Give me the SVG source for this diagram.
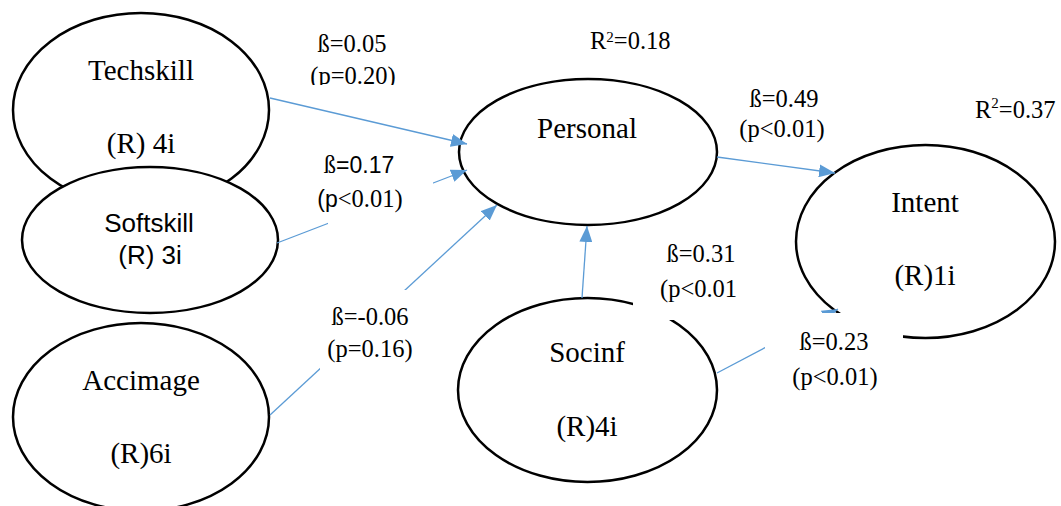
<svg xmlns="http://www.w3.org/2000/svg" width="1061" height="506" viewBox="0 0 1061 506">
<style>
.node{fill:#fff;stroke:#000;stroke-width:2.5}
.nt{font-family:"Liberation Serif","Times New Roman",serif;font-size:29px;fill:#000;text-anchor:middle}
.ns{font-family:"Liberation Sans",Arial,sans-serif;font-size:26px;fill:#000;text-anchor:middle}
.conn{stroke:#5B9BD5;stroke-width:1.3;fill:none;marker-end:url(#ah)}
.lbl{font-family:"Liberation Serif","Times New Roman",serif;font-size:24.5px;fill:#000;text-anchor:middle}
.sans{font-family:"Liberation Sans",Arial,sans-serif;font-size:23px}
.box{fill:#fff;stroke:none}
</style>
<defs>
<marker id="ah" markerUnits="userSpaceOnUse" markerWidth="17" markerHeight="13" refX="16" refY="6.5" orient="auto">
<path d="M0,0 L16,6.5 L0,13 z" fill="#5B9BD5"/>
</marker>
<clipPath id="clipP20"><rect x="290" y="60" width="130" height="25"/></clipPath>
</defs>
<rect width="1061" height="506" fill="#fff"/>
<g id="techskill">
<ellipse class="node" cx="141" cy="110" rx="128" ry="97"/>
<text class="nt" x="141" y="80">Techskill</text>
<text class="nt" x="141" y="153">(R) 4i</text>
</g>
<g id="softskill">
<ellipse class="node" cx="150" cy="240" rx="128" ry="73"/>
<text class="ns" x="149" y="232">Softskill</text>
<text class="ns" x="150" y="264">(R) 3i</text>
</g>
<g id="accimage">
<ellipse class="node" cx="141" cy="417" rx="128" ry="94"/>
<text class="nt" x="141" y="390">Accimage</text>
<text class="nt" x="141" y="463">(R)6i</text>
</g>
<g id="personal">
<ellipse class="node" cx="588" cy="152" rx="129" ry="73"/>
<text class="nt" x="587" y="138">Personal</text>
</g>
<g id="socinf">
<ellipse class="node" cx="587.5" cy="390" rx="129.5" ry="92"/>
<text class="nt" x="587" y="362">Socinf</text>
<text class="nt" x="587" y="436">(R)4i</text>
</g>
<g id="intent">
<ellipse class="node" cx="925.5" cy="241.5" rx="129.5" ry="96.5"/>
<text class="nt" x="925" y="212">Intent</text>
<text class="nt" x="925" y="285">(R)1i</text>
</g>
<g id="connectors">
<line class="conn" x1="270" y1="98" x2="467" y2="144"/>
<line class="conn" x1="277" y1="243" x2="467" y2="170"/>
<line class="conn" x1="270" y1="415" x2="497" y2="205"/>
<line class="conn" x1="582" y1="298" x2="587" y2="226"/>
<line class="conn" x1="717" y1="157" x2="835" y2="173"/>
<line class="conn" x1="717" y1="373" x2="838" y2="309"/>
</g>
<g id="label-boxes">
<rect class="box" x="328" y="150" width="105" height="76"/>
<rect class="box" x="320" y="290" width="86" height="82"/>
<rect class="box" x="633" y="238" width="112" height="82"/>
<rect class="box" x="765" y="313" width="138" height="85"/>
</g>
<g id="labels">
<text class="lbl" x="352" y="52">ß=0.05</text>
<text class="lbl" x="353" y="84" clip-path="url(#clipP20)">(p=0.20)</text>
<text class="lbl" x="590" y="49" style="text-anchor:start">R<tspan font-size="15" dy="-7">2</tspan><tspan dy="7">=0.18</tspan></text>
<text class="lbl" x="784" y="107">ß=0.49</text>
<text class="lbl" x="782" y="137">(p&lt;0.01)</text>
<text class="lbl" x="975" y="118" style="text-anchor:start">R<tspan font-size="15" dy="-10">2</tspan><tspan dy="10">=0.37</tspan></text>
<text class="lbl" x="359" y="173">ß<tspan class="sans">=0.17</tspan></text>
<text class="lbl" x="360" y="207"><tspan class="sans">(p</tspan>&lt;0.01)</text>
<text class="lbl" x="370" y="325">ß=-0.06</text>
<text class="lbl" x="370" y="357">(p=0.16)</text>
<text class="lbl" x="701" y="262">ß=0.31</text>
<text class="lbl" x="660" y="297" style="text-anchor:start">(p&lt;0.01</text>
<text class="lbl" x="834" y="350">ß=0.23</text>
<text class="lbl" x="835" y="385">(p&lt;0.01)</text>
</g>
</svg>
